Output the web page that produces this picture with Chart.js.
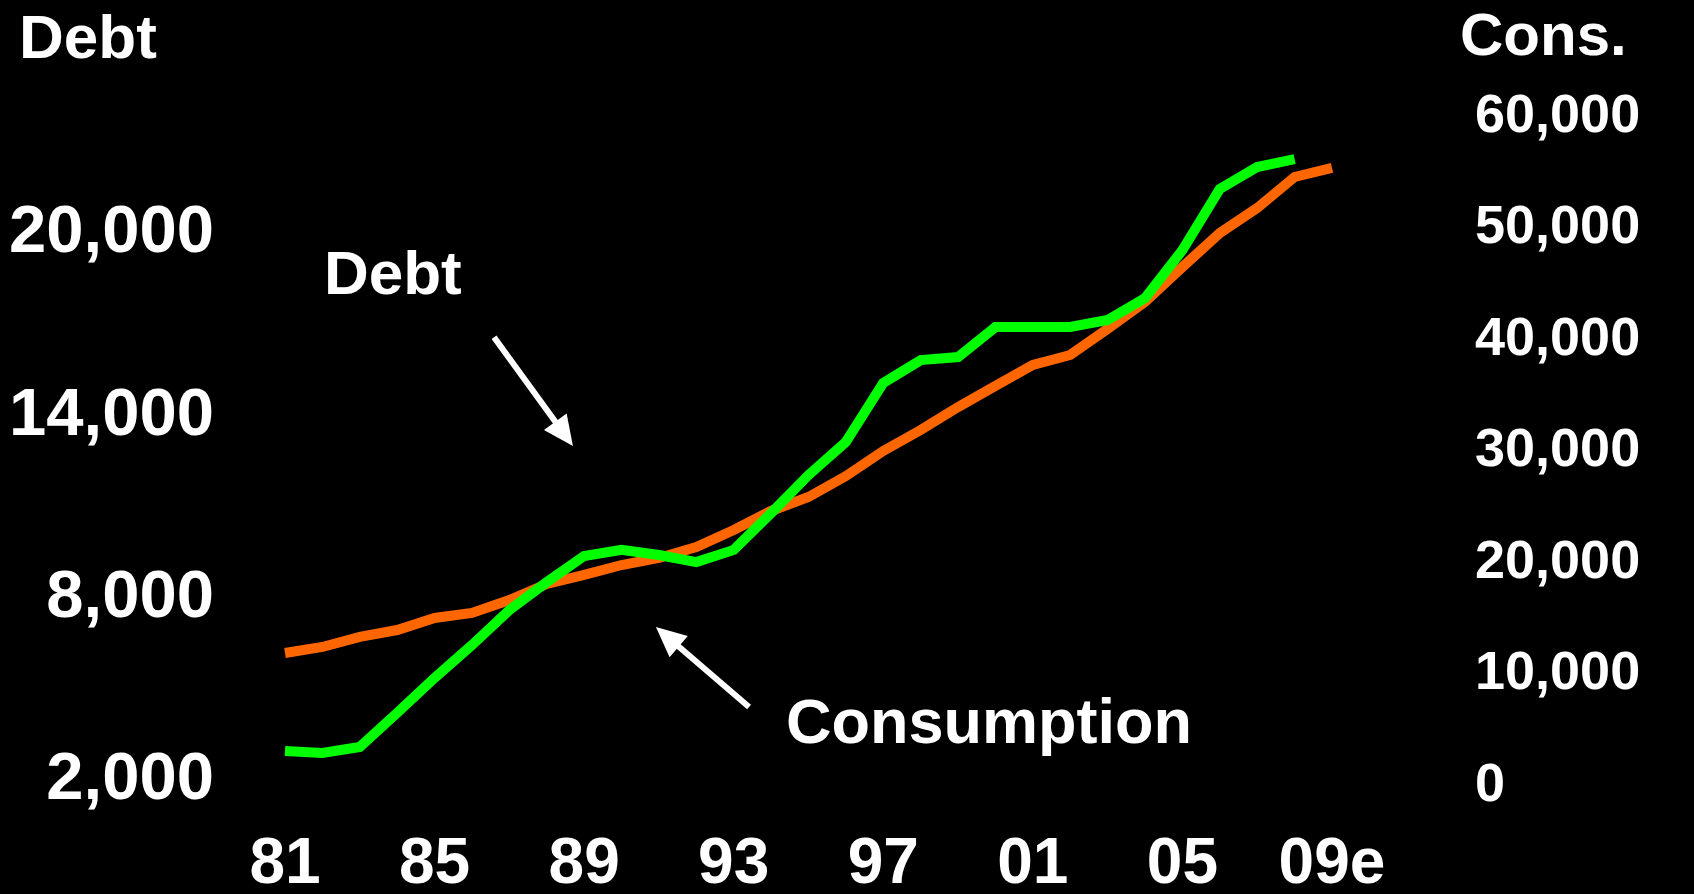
<!DOCTYPE html>
<html>
<head>
<meta charset="utf-8">
<script src="https://cdn.jsdelivr.net/npm/chart.js@4"></script>
<style>
  html, body { margin: 0; padding: 0; background: #000; }
  #wrap { width: 1694px; height: 894px; }
</style>
</head>
<body>
<div id="wrap"><canvas id="debtChart" width="1694" height="894"></canvas></div>
<script>
// years 1981..2009 (09 is an estimate)
const years = ['81', '82', '83', '84', '85', '86', '87', '88', '89', '90', '91', '92', '93', '94', '95',
  '96', '97', '98', '99', '00', '01', '02', '03', '04', '05', '06', '07', '08', '09e'];

// left axis, ends in 2008
const debt = [2990, 2920, 3120, 4240, 5390, 6470, 7620, 8540, 9400, 9600, 9430, 9200, 9600, 10810,
  12060, 13150, 15090, 15840, 15940, 16930, 16930, 16930, 17160, 17880, 19460, 21470, 22190, 22450];

// right axis
const consumption = [11480, 12020, 12920, 13540, 14620, 15070, 16230, 17670, 18480, 19370, 20000,
  20990, 22510, 24220, 25470, 27350, 29600, 31480, 33540, 35430, 37310, 38210, 40540, 42960, 46100,
  49150, 51390, 54170, 54980];

const debtTicks = [2000, 8000, 14000, 20000];
const consTicks = [0, 10000, 20000, 30000, 40000, 50000, 60000];

const FONT = "'Liberation Sans', Arial, sans-serif";
const NARROW = "'Liberation Sans Narrow', 'Arial Narrow', 'Liberation Sans', sans-serif";

// text + arrows, anchored on [year index, consumption value]
const notes = [
  { text: 'Debt', at: [1.04, 43650], size: 62 },
  { text: 'Consumption', at: [13.4, 3380], size: 63 },
];
const arrows = [
  { from: [5.59, 39800], to: [7.7, 30050] },
  { from: [12.41, 6640], to: [9.92, 13810] },
];

const overlay = {
  id: 'overlay',
  afterDraw(chart) {
    const ctx = chart.ctx;
    const xs = chart.scales.x, yr = chart.scales.yCons;
    ctx.save();
    ctx.fillStyle = '#fff';
    ctx.strokeStyle = '#fff';
    ctx.textBaseline = 'alphabetic';
    ctx.textAlign = 'left';
    // axis titles
    ctx.font = 'bold 62px ' + FONT;
    ctx.fillText('Debt', 19, 58);
    ctx.font = 'bold 60px ' + FONT;
    ctx.fillText('Cons.', 1460, 55);

    notes.forEach(n => {
      ctx.font = 'bold ' + n.size + 'px ' + FONT;
      ctx.fillText(n.text, xs.getPixelForValue(n.at[0]), yr.getPixelForValue(n.at[1]));
    });

    ctx.lineWidth = 6;
    arrows.forEach(a => {
      const x1 = xs.getPixelForValue(a.from[0]), y1 = yr.getPixelForValue(a.from[1]);
      const x2 = xs.getPixelForValue(a.to[0]), y2 = yr.getPixelForValue(a.to[1]);
      const ang = Math.atan2(y2 - y1, x2 - x1);
      const hl = 30, hw = 14;
      const bx = x2 - hl * Math.cos(ang), by = y2 - hl * Math.sin(ang);
      ctx.beginPath();
      ctx.moveTo(x1, y1);
      ctx.lineTo(bx + 2 * Math.cos(ang), by + 2 * Math.sin(ang));
      ctx.stroke();
      ctx.beginPath();
      ctx.moveTo(x2, y2);
      ctx.lineTo(bx + hw * Math.sin(ang), by - hw * Math.cos(ang));
      ctx.lineTo(bx - hw * Math.sin(ang), by + hw * Math.cos(ang));
      ctx.closePath();
      ctx.fill();
    });
    ctx.restore();
  }
};

const fmt = v => Number(v).toLocaleString('en-US');

// fixed axis width, and keep the big tick padding out of the chart area
const fixWidth = w => s => {
  s.width = w;
  s.paddingTop = 0;
  s.paddingBottom = 0;
};

new Chart(document.getElementById('debtChart').getContext('2d'), {
  type: 'line',
  data: {
    labels: years,
    datasets: [
      {
        label: 'Debt',
        data: debt,
        yAxisID: 'yDebt',
        borderColor: '#00ff00',
        borderWidth: 10,
        borderCapStyle: 'butt',
        borderJoinStyle: 'miter',
        pointRadius: 0,
        tension: 0,
      },
      {
        label: 'Consumption',
        data: consumption,
        yAxisID: 'yCons',
        borderColor: '#ff6600',
        borderWidth: 10,
        borderCapStyle: 'butt',
        borderJoinStyle: 'miter',
        pointRadius: 0,
        tension: 0,
      },
    ],
  },
  options: {
    responsive: false,
    animation: false,
    layout: { padding: { top: 112, left: 0, right: 0, bottom: 0 } },
    plugins: {
      legend: { display: false },
      tooltip: { enabled: false },
    },
    scales: {
      x: {
        offset: false,
        grid: { display: false, drawTicks: false },
        border: { display: false },
        afterFit: s => { s.height = 113; },
        ticks: {
          autoSkip: false,
          maxRotation: 0,
          padding: 52,
          color: '#fff',
          font: { family: NARROW, size: 64, weight: 'bold', lineHeight: 1 },
          callback: (v, i) => (i % 4 === 0 ? years[i] : ''),
        },
      },
      yDebt: {
        position: 'left',
        min: 2000,
        max: 24000,
        afterBuildTicks: s => { s.ticks = debtTicks.map(v => ({ value: v })); },
        afterFit: fixWidth(285),
        grid: { display: false, drawTicks: false },
        border: { display: false },
        ticks: {
          padding: 71,
          color: '#fff',
          font: { family: FONT, size: 67, weight: 'bold', lineHeight: 1 },
          callback: fmt,
        },
      },
      yCons: {
        position: 'right',
        min: 0,
        max: 60000,
        afterBuildTicks: s => { s.ticks = consTicks.map(v => ({ value: v })); },
        afterFit: fixWidth(362),
        grid: { display: false, drawTicks: false },
        border: { display: false },
        ticks: {
          padding: 143,
          labelOffset: 5,
          color: '#fff',
          font: { family: FONT, size: 54, weight: 'bold', lineHeight: 1 },
          callback: fmt,
        },
      },
    },
  },
  plugins: [overlay],
});
</script>
</body>
</html>
